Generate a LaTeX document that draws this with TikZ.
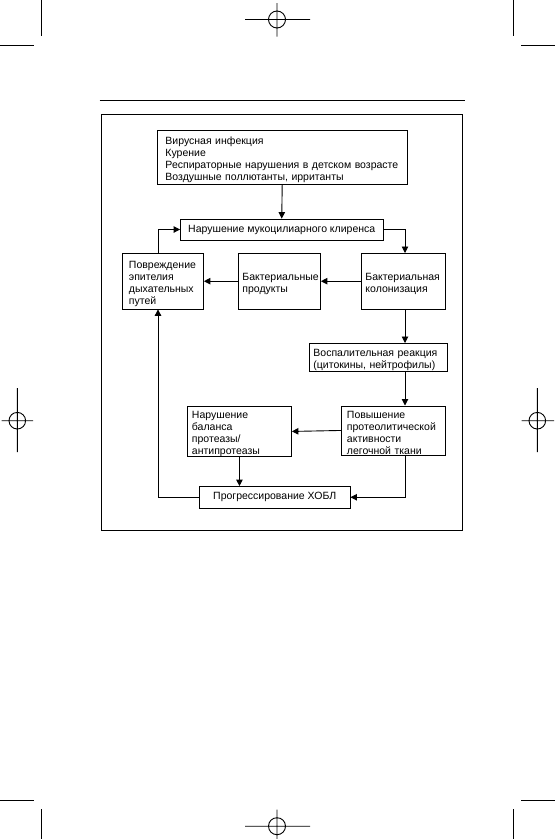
\documentclass[tikz,border=0pt]{standalone}
\usepackage{fontspec}
\setmainfont{Liberation Sans}
\usetikzlibrary{arrows.meta}
\begin{document}
\begin{tikzpicture}[x=1bp,y=-1bp,
  txt/.style={font=\fontsize{10.5bp}{12.1bp}\selectfont},
  box/.style={txt,draw,line width=0.9bp,inner ysep=0pt,align=left,anchor=north west,
    execute at begin node={\rule{0pt}{12.5bp}}},
  cbox/.style={txt,draw,line width=0.9bp,inner sep=0pt,align=center},
  arr/.style={line width=0.9bp,-{Triangle[length=6.5bp,width=6.5bp]}},
  cropline/.style={line width=0.9bp}]
\useasboundingbox (0,0) rectangle (555,839);
% crop and registration marks
\draw[cropline] (41.8,0) -- (41.8,36) (0,45) -- (33.6,45);
\draw[cropline] (513.3,0) -- (513.3,36) (521.4,45) -- (555,45);
\draw[cropline] (41.8,809) -- (41.8,839) (0,800.7) -- (33.6,800.7);
\draw[cropline] (513.3,809) -- (513.3,839) (521.4,800.7) -- (555,800.7);
\draw[cropline] (245,19.5) -- (310,19.5) (277,3) -- (277,36.5) (277,19.5) circle[radius=8.5];
\draw[cropline] (245,826.2) -- (310,826.2) (277,809.6) -- (277,839) (277,826.2) circle[radius=8.5];
\draw[cropline] (1.7,420.7) -- (33,420.7) (17.3,388) -- (17.3,452) (17.3,420.7) circle[radius=8.3];
\draw[cropline] (521.7,420.7) -- (554,420.7) (537.3,388) -- (537.3,452) (537.3,420.7) circle[radius=8.3];
% rule and frame
\draw[line width=1bp] (99.5,100) -- (465,100);
\draw[line width=1bp] (101.5,114) rectangle (462.5,530.5);
% boxes
\node[box,inner xsep=8.5bp,text width=233.5bp,minimum height=54bp] (top) at (156.5,130)
  {\mbox{Вирусная инфекция}\\Курение\\\mbox{Респираторные нарушения в детском возрасте}\\\mbox{Воздушные поллютанты, ирританты}};
\node[cbox,minimum width=202.5bp,minimum height=21bp] (muco) at (281.75,229.5) {Нарушение мукоцилиарного клиренса};
\node[box,inner xsep=7bp,text width=67.5bp,minimum height=55.5bp] (povr) at (121.5,253)
  {Повреждение\\эпителия\\дыхательных\\путей};
\node[box,inner xsep=4.5bp,text width=73.5bp,minimum height=55.5bp] (prod) at (237.5,253)
  {Бактериальные\\продукты};
\node[box,inner xsep=4bp,text width=76bp,minimum height=55.5bp] (kolon) at (361,253)
  {Бактериальная\\колонизация};
\node[box,inner xsep=4bp,text width=130bp,minimum height=28bp] (vosp) at (309,343)
  {\mbox{Воспалительная реакция}\\\mbox{(цитокины, нейтрофилы)}};
\node[box,inner xsep=4.5bp,text width=95bp,minimum height=49bp] (narbal) at (187,405.5)
  {Нарушение\\баланса\\протеазы/\\антипротеазы};
\node[box,inner xsep=5.5bp,text width=93bp,minimum height=49bp] (povysh) at (341,405.5)
  {Повышение\\протеолитической\\активности\\\mbox{легочной ткани}};
\node[cbox,minimum width=150.5bp,minimum height=21.5bp] (progr) at (274.75,497.25) {Прогрессирование ХОБЛ};
% guide coordinates
\coordinate (cx) at (405,0);
\coordinate (lx) at (158,0);
% connectors
\draw[arr] (top.south) -- (muco.north);
\draw[arr] (muco.east) -| (kolon.north -| cx);
\draw[arr] (kolon.west) -- (prod.east);
\draw[arr] (prod.west) -- (povr.east);
\draw[arr] (povr.north -| lx) |- (muco.west);
\draw[arr] (kolon.south -| cx) -- (vosp.north -| cx);
\draw[arr] (vosp.south -| cx) -- (povysh.north -| cx);
\draw[arr] (povysh.west) -- (narbal.east);
\draw[arr] (narbal.south) -- (progr.north -| narbal.south);
\draw[arr] (povysh.south -| cx) |- (progr.east);
\draw[arr] (progr.west) -| (povr.south -| lx);
\end{tikzpicture}
\end{document}
